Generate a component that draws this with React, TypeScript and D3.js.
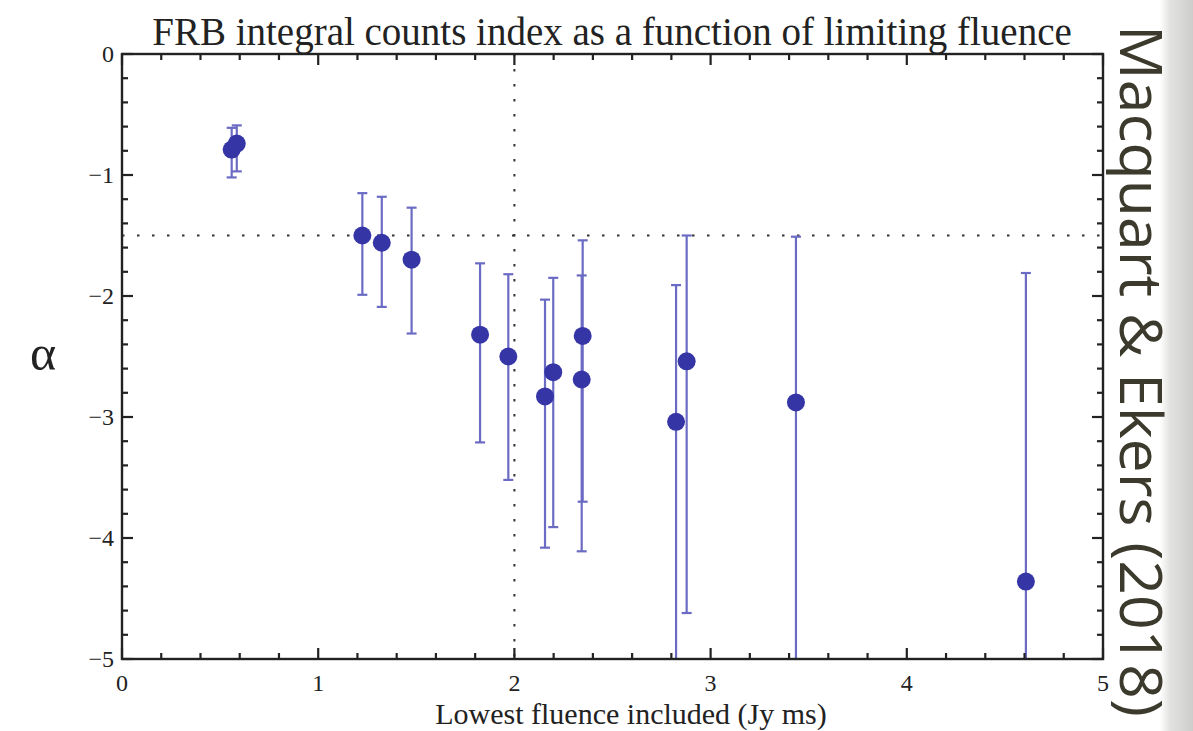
import React from "react";
import * as d3 from "d3";

const fluence = [0.559, 0.585, 1.225, 1.324, 1.476, 1.825, 1.969, 2.156, 2.198, 2.348, 2.343, 2.824, 2.878, 3.435, 4.607];
const alpha = [-0.79, -0.74, -1.5, -1.56, -1.7, -2.32, -2.5, -2.83, -2.63, -2.33, -2.69, -3.04, -2.54, -2.88, -4.36];
const alphaUpper = [-0.61, -0.59, -1.15, -1.18, -1.27, -1.73, -1.82, -2.03, -1.85, -1.54, -1.83, -1.91, -1.5, -1.51, -1.81];
const alphaLower = [-1.02, -0.97, -1.99, -2.09, -2.31, -3.21, -3.52, -4.08, -3.91, -3.7, -4.11, -5.5, -4.62, -5.5, -5.5];
const xTicks = [0, 1, 2, 3, 4, 5];
const yTicks = [0, -1, -2, -3, -4, -5];
const refAlpha = -1.5;
const refFluence = 2;

const W = 1193, H = 731;
const L = 122, R = 1103, T = 54, B = 659;

export default function App() {
  const x = d3.scaleLinear().domain([0, 5]).range([L, R]);
  const y = d3.scaleLinear().domain([0, -5]).range([T, B]);
  const xMinor = d3.range(0, 5.0001, 0.2);
  const yMinor = d3.range(0, -5.0001, -0.2);
  const cy = (v: number) => Math.min(B, Math.max(T, y(v)));
  const axisCol = "#222";
  return (
    <svg width={W} height={H} style={{ position: "absolute", left: 0, top: 0, background: "#fff" }}>
      <defs>
        <linearGradient id="strip" x1="0" x2="1" y1="0" y2="0">
          <stop offset="0" stopColor="#ffffff" />
          <stop offset="0.3" stopColor="#e2e2e0" />
          <stop offset="1" stopColor="#cdcdcb" />
        </linearGradient>
        <clipPath id="plot"><rect x={L} y={T} width={R - L} height={B - T} /></clipPath>
      </defs>
      <rect x={0} y={0} width={W} height={H} fill="#fff" />
      <rect x={1160} y={0} width={33} height={H} fill="url(#strip)" />

      {/* reference lines */}
      <line x1={L} x2={R} y1={y(refAlpha)} y2={y(refAlpha)} stroke="#333" strokeWidth={2} strokeDasharray="2.5,12.5" />
      <line x1={x(refFluence)} x2={x(refFluence)} y1={T} y2={B} stroke="#333" strokeWidth={2} strokeDasharray="2.5,12.5" />

      {/* error bars */}
      <g clipPath="url(#plot)" stroke="#6b6bc4" strokeWidth={2.2}>
        {fluence.map((f, i) => (
          <g key={i}>
            <line x1={x(f)} x2={x(f)} y1={y(alphaUpper[i])} y2={y(alphaLower[i])} />
            <line x1={x(f) - 5} x2={x(f) + 5} y1={y(alphaUpper[i])} y2={y(alphaUpper[i])} />
            {alphaLower[i] > -5 && <line x1={x(f) - 5} x2={x(f) + 5} y1={y(alphaLower[i])} y2={y(alphaLower[i])} />}
          </g>
        ))}
      </g>
      {/* points */}
      <g fill="#3535a6">
        {fluence.map((f, i) => (
          <circle key={i} cx={x(f)} cy={cy(alpha[i])} r={9} />
        ))}
      </g>

      {/* frame */}
      <rect x={L} y={T} width={R - L} height={B - T} fill="none" stroke={axisCol} strokeWidth={2.4} />
      <g stroke={axisCol} strokeWidth={2.2}>
        {xMinor.map((v, i) => {
          const len = Math.abs(v - Math.round(v)) < 1e-6 ? 11 : 6;
          return (
            <g key={i}>
              <line x1={x(v)} x2={x(v)} y1={B} y2={B - len} />
              <line x1={x(v)} x2={x(v)} y1={T} y2={T + len} />
            </g>
          );
        })}
        {yMinor.map((v, i) => {
          const len = Math.abs(v - Math.round(v)) < 1e-6 ? 11 : 6;
          return (
            <g key={i}>
              <line x1={L} x2={L + len} y1={y(v)} y2={y(v)} />
              <line x1={R} x2={R - len} y1={y(v)} y2={y(v)} />
            </g>
          );
        })}
      </g>

      <g fontFamily="Liberation Serif, Times New Roman, serif" fill="#222" fontSize={24}>
        {xTicks.map((v) => (
          <text key={v} x={x(v)} y={B + 32} textAnchor="middle">{v}</text>
        ))}
        {yTicks.map((v) => (
          <text key={v} x={L - 8} y={y(v) + 8} textAnchor="end">{v < 0 ? "\u2212" + Math.abs(v) : v}</text>
        ))}
        <text x={612} y={45} textAnchor="middle" fontSize={39}>FRB integral counts index as a function of limiting fluence</text>
        <text x={631} y={724} textAnchor="middle" fontSize={30}>Lowest fluence included (Jy ms)</text>
        <text x={43} y={370} textAnchor="middle" fontSize={50}>α</text>
      </g>

      <text
        transform="translate(1120,371) rotate(90)"
        textAnchor="middle"
        fontFamily="Open Sans, DejaVu Sans, sans-serif"
        fontWeight={400}
        fontSize={58}
        textLength={692}
        lengthAdjust="spacingAndGlyphs"
        fill="#3b3a2c"
      >Macquart &amp; Ekers (2018)</text>
    </svg>
  );
}
